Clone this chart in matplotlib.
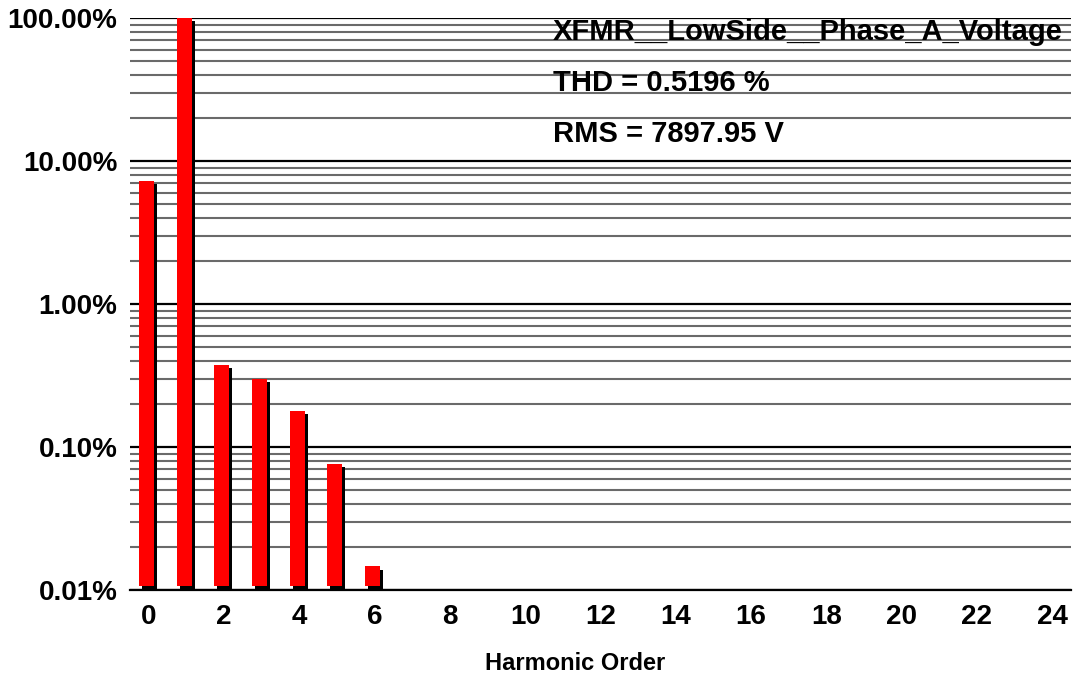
import matplotlib
matplotlib.use("Agg")
import matplotlib.pyplot as plt
import matplotlib.patheffects as pe
from matplotlib.ticker import FixedLocator, FuncFormatter, LogLocator, NullFormatter

# harmonic spectrum, percent of fundamental
orders = [0, 1, 2, 3, 4, 5, 6]
magnitude_pct = [7.25, 100.0, 0.375, 0.300, 0.179, 0.0757, 0.0146]

signal_name = "XFMR__LowSide__Phase_A_Voltage"
thd_text = "THD = 0.5196 %"
rms_text = "RMS = 7897.95 V"
x_ticks = list(range(0, 25, 2))
y_ticks = [0.01, 0.1, 1, 10, 100]

plt.rcParams['font.family'] = ['Liberation Sans', 'DejaVu Sans']
plt.rcParams['font.weight'] = 'bold'

fig = plt.figure(figsize=(10.75, 6.8), dpi=100)
ax = fig.add_axes([130 / 1075, 90 / 680, 941 / 1075, 572 / 680])

ax.set_yscale('log')
ax.set_ylim(0.01, 100)
ax.set_xlim(-0.5, 24.5)

# bars with a black drop shadow, lifted a touch off the axis line
base = 0.01 * 10 ** (4 / 143)
heights = [m - base for m in magnitude_pct]
bars = ax.bar([o - 0.06 for o in orders], heights, bottom=base, width=0.4,
              color='#ff0000', edgecolor='none', zorder=3)
for b in bars:
    b.set_path_effects([pe.SimplePatchShadow(offset=(2.2, -2.2), shadow_rgbFace='black', alpha=1.0),
                        pe.Normal()])

# grid: black at decades, grey in between
ax.yaxis.set_major_locator(FixedLocator(y_ticks))
ax.yaxis.set_minor_locator(LogLocator(base=10, subs=range(2, 10), numticks=20))
ax.yaxis.set_minor_formatter(NullFormatter())
ax.yaxis.set_major_formatter(FuncFormatter(lambda v, p: f"{v:.2f}%"))
ax.grid(True, which='major', axis='y', color='black', linewidth=1.6, zorder=1)
ax.grid(True, which='minor', axis='y', color='#6a6a6a', linewidth=1.5, zorder=1)
ax.set_axisbelow(True)

ax.set_xticks(x_ticks)
ax.tick_params(axis='both', which='both', length=0, labelsize=20)
ax.tick_params(axis='y', pad=9)
ax.tick_params(axis='x', pad=10)
for lab in ax.get_xticklabels() + ax.get_yticklabels():
    lab.set_fontweight('bold')

for side in ['left', 'right', 'top']:
    ax.spines[side].set_visible(False)
ax.spines['bottom'].set_linewidth(1.6)
ax.spines['bottom'].set_zorder(4)

ax.text(0.4495, 0.9755, signal_name, transform=ax.transAxes, fontsize=21,
        fontweight='bold', ha='left', va='center')
ax.text(0.4495, 0.886, thd_text, transform=ax.transAxes, fontsize=21,
        fontweight='bold', ha='left', va='center')
ax.text(0.4495, 0.797, rms_text, transform=ax.transAxes, fontsize=21,
        fontweight='bold', ha='left', va='center')

fig.text(575 / 1075, 1 - 664 / 680, "Harmonic Order", fontsize=17,
         fontweight='bold', ha='center', va='center')

fig.savefig("out.png", dpi=100)
